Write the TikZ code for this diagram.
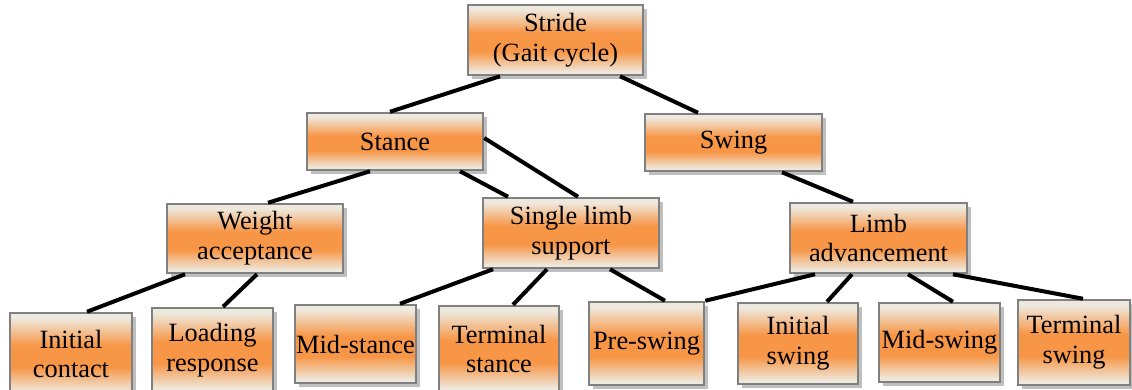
\documentclass[tikz,border=0pt]{standalone}
\usepackage{fontspec}
\setmainfont{Liberation Serif}
\usepackage{tikz}
\usetikzlibrary{shadows}

\definecolor{boxbeige}{RGB}{238,233,222}
\definecolor{boxorange}{RGB}{247,150,70}
\definecolor{boxframe}{RGB}{128,128,128}
\pgfdeclareverticalshading{phaseshade}{100bp}{color(0bp)=(boxbeige); color(27bp)=(boxbeige);
  color(42bp)=(boxorange); color(55bp)=(boxorange); color(72bp)=(boxbeige); color(100bp)=(boxbeige)}

\newlength\px
\setlength\px{0.02cm}

\begin{document}
\begin{tikzpicture}[x=\px, y=-\px,
				phase/.style={draw=boxframe, line width=2.5\px, shading=phaseshade, align=center,
					inner sep=0pt, font=\fontsize{15}{17}\selectfont,
					drop shadow={shadow xshift=4\px, shadow yshift=-4\px, fill=black!25, opacity=1}},
				link/.style={draw=black, line width=4\px}]
				% Bildbereich
				\useasboundingbox (0,0) rectangle (1132,389);
				% Ebene 1 und 2
				\node[phase, minimum width=175\px, minimum height=70\px] (stride) at (555.5,40) {Stride\\(Gait cycle)};
				\node[phase, minimum width=176\px, minimum height=57\px] (stance) at (395,141.5) {Stance};
				\node[phase, minimum width=177\px, minimum height=57\px] (swing) at (733.5,142.5) {Swing};
				% Ebene 3
				\node[phase, minimum width=176\px, minimum height=69\px] (weight) at (255,238.5) {Weight\\acceptance};
				\node[phase, minimum width=176\px, minimum height=70\px] (single) at (571,233) {Single limb\\support};
				\node[phase, minimum width=177\px, minimum height=70\px] (limbadv) at (878.5,238) {Limb\\advancement};
				% Ebene 4
				\node[phase, minimum width=122\px, minimum height=82\px] (initcontact) at (71,354) {Initial\\contact};
				\node[phase, minimum width=121\px, minimum height=84\px] (loading) at (212.5,350) {Loading\\response};
				\node[phase, minimum width=121\px, minimum height=78\px] (midstance) at (355.5,344) {Mid-stance};
				\node[phase, minimum width=120\px, minimum height=86\px] (termstance) at (499,349) {Terminal\\stance};
				\node[phase, minimum width=115\px, minimum height=83\px] (preswing) at (646.5,343.5) {Pre-swing};
				\node[phase, minimum width=120\px, minimum height=81\px] (initswing) at (798,343.5) {Initial\\swing};
				\node[phase, minimum width=121\px, minimum height=79\px] (midswing) at (939.5,342.5) {Mid-swing};
				\node[phase, minimum width=112\px, minimum height=85\px] (termswing) at (1074,342.5) {Terminal\\swing};
				% Verbindungen
				\draw[link] ([xshift=-55.5\px]stride.south) -- ([xshift=-5\px]stance.north);
				\draw[link] ([xshift=64.5\px]stride.south) -- ([xshift=-35.5\px]swing.north);
				\draw[link] ([xshift=-25\px]stance.south) -- ([xshift=13\px]weight.north);
				\draw[link] ([xshift=65\px]stance.south) -- ([xshift=-63\px]single.north);
				\draw[link] ([yshift=3.5\px]stance.east) -- ([xshift=7\px]single.north);
				\draw[link] ([xshift=48.5\px]swing.south) -- ([xshift=-25.5\px]limbadv.north);
				\draw[link] ([xshift=-70\px]weight.south) -- ([xshift=16\px]initcontact.north);
				\draw[link] ([xshift=2\px]weight.south) -- ([xshift=10.5\px]loading.north);
				\draw[link] ([xshift=-78\px]single.south) -- ([xshift=44.5\px]midstance.north);
				\draw[link] ([xshift=-24\px]single.south) -- ([xshift=14\px]termstance.north);
				\draw[link] ([xshift=39\px]single.south) -- ([xshift=18.5\px]preswing.north);
				\draw[link] ([xshift=-63.5\px]limbadv.south) -- (preswing.north east);
				\draw[link] ([xshift=-26.5\px]limbadv.south) -- ([xshift=29\px]initswing.north);
				\draw[link] ([xshift=29.5\px]limbadv.south) -- ([xshift=13.5\px]midswing.north);
				\draw[link] ([xshift=74.5\px]limbadv.south) -- ([xshift=9\px]termswing.north);
			\end{tikzpicture}
\end{document}
